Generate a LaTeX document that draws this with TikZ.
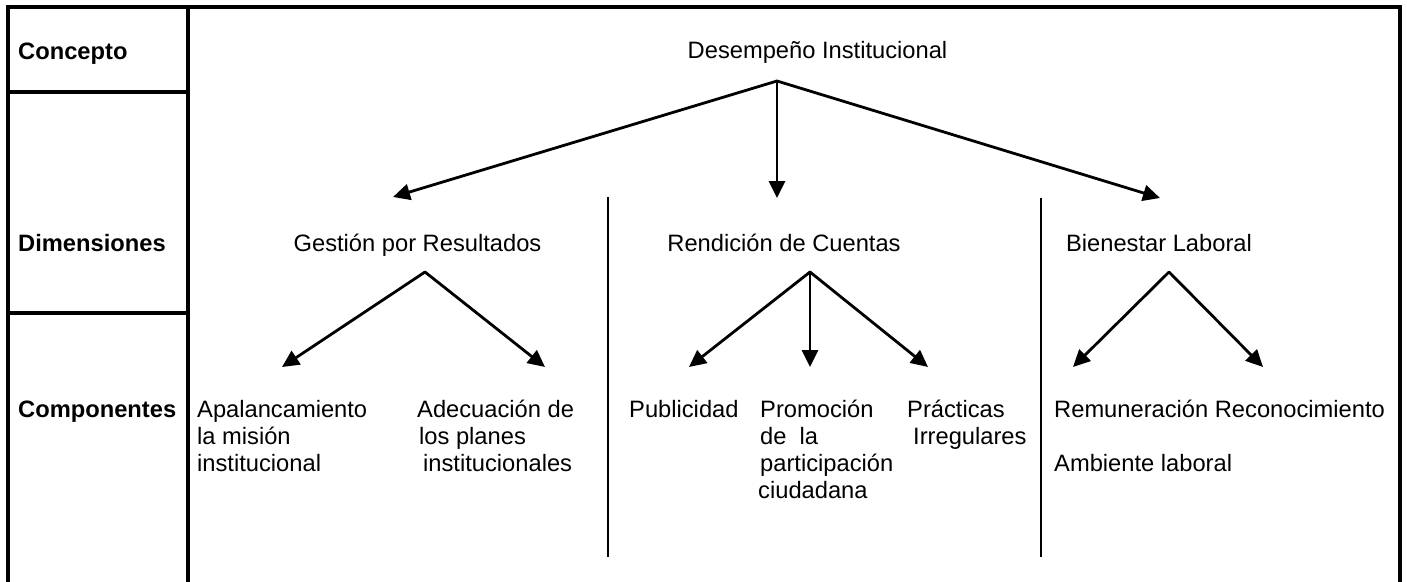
\documentclass[tikz,border=0pt]{standalone}
\usepackage{fontspec}
\setmainfont{Liberation Sans}
\usetikzlibrary{arrows.meta}
\newcommand\mlines[1]{\begin{tabular}[t]{@{}l@{}}#1\end{tabular}}
\begin{document}
\begin{tikzpicture}[x=1pt,y=-1pt,
  txt/.style={inner sep=0pt, font=\fontsize{23.7}{27.2}\selectfont},
  lab/.style={inner sep=0pt, font=\fontsize{23.7}{27.2}\selectfont\bfseries, anchor=base west},
  comp/.style={txt, anchor=base west},
  dim/.style={txt, anchor=base},
  arr/.style={line width=2.8pt, line cap=round, -{Triangle[length=17pt,width=16pt]}},
  frameline/.style={line width=3.2pt},
  sepline/.style={line width=2pt}]
\useasboundingbox (0,0) rectangle (1407,581);
% frame
\draw[frameline] (8,585) -- (8,7) -- (1400,7) -- (1400,585);
\draw[frameline] (188,7) -- (188,585);
\draw[frameline] (8,92) -- (188,92);
\draw[frameline] (8,313) -- (188,313);
% separators
\draw[sepline] (608,197) -- (608,557);
\draw[sepline] (1041,198) -- (1041,557);
% row labels
\node[lab] (concepto) at (18,59) {Concepto};
\node[lab] (dimensiones) at (18,251) {Dimensiones};
\node[lab] (componentes) at (18,417) {Componentes};
% concept and dimensions
\node[dim] (desempeno) at (817.5,58) {Desempeño Institucional};
\node[dim] (gestion) at (417.5,251) {Gestión por Resultados};
\node[dim] (rendicion) at (784,251) {Rendición de Cuentas};
\node[dim] (bienestar) at (1159,251) {Bienestar Laboral};
% components
\node[comp] (apal) at (197,417) {\mlines{Apalancamiento\\la misión\\institucional}};
\node[comp] (adec) at (417,417) {\mlines{Adecuación de\\\hspace{2pt}los planes\\\hspace{6pt}institucionales}};
\node[comp] (publ) at (629,417) {Publicidad};
\node[comp] (prom) at (760,417) {\mlines{Promoción\\de\ \ la\\participación\\\hspace{-2pt}ciudadana}};
\node[comp] (prac) at (907,417) {\mlines{Prácticas\\\hspace{6pt}Irregulares}};
\node[comp] (remu) at (1054,417) {Remuneración Reconocimiento};
\node[comp] (amb) at (1054,471) {Ambiente laboral};
% hubs and tips
\coordinate (hubD) at (777,81);
\coordinate (hubG) at (425,272);
\coordinate (hubR) at (810,272);
\coordinate (hubB) at (1169,272);
\coordinate (tG) at (393,197);
\coordinate (tR) at (777,198);
\coordinate (tB) at (1160,198);
\coordinate (tApal) at (282,367);
\coordinate (tAdec) at (545,367);
\coordinate (tPubl) at (689,367);
\coordinate (tProm) at (810,367);
\coordinate (tPrac) at (928,367);
\coordinate (tRemu) at (1073,367);
\coordinate (tReco) at (1263,367);
% arrows
\draw[arr] (hubD) -- (tG);
\draw[arr] (hubD) -- (tR);
\draw[arr] (hubD) -- (tB);
\draw[arr] (hubG) -- (tApal);
\draw[arr] (hubG) -- (tAdec);
\draw[arr] (hubR) -- (tPubl);
\draw[arr] (hubR) -- (tProm);
\draw[arr] (hubR) -- (tPrac);
\draw[arr] (hubB) -- (tRemu);
\draw[arr] (hubB) -- (tReco);
\end{tikzpicture}
\end{document}
